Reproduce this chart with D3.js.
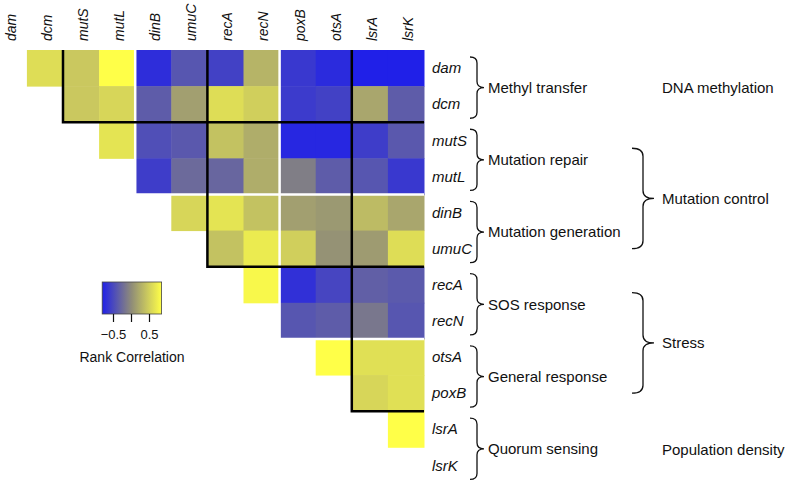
<!DOCTYPE html>
<html>
<head>
<meta charset="utf-8">
<script src="https://cdn.jsdelivr.net/npm/d3@7"></script>
<style>
  body { margin: 0; background: #fff; }
  text { font-family: "Liberation Sans", Arial, sans-serif; fill: #111; }
</style>
</head>
<body>
<script>
// genes on the two axes (poxB / otsA are swapped between them in the original)
const colGenes = ["dam", "dcm", "mutS", "mutL", "dinB", "umuC", "recA", "recN", "poxB", "otsA", "lsrA", "lsrK"];
const rowGenes = ["dam", "dcm", "mutS", "mutL", "dinB", "umuC", "recA", "recN", "otsA", "poxB", "lsrA", "lsrK"];

// upper triangle, row i holds the columns i+1 .. 11
const rDam  = [0.6, 0.45, 0.85, -0.7, -0.4, -0.55, 0.3, -0.62, -0.72, -0.8, -0.8];
const rDcm  = [0.45, 0.55, -0.35, 0.15, 0.6, 0.5, -0.6, -0.55, 0.2, -0.35];
const rMutS = [0.65, -0.45, -0.38, 0.4, 0.25, -0.75, -0.75, -0.58, -0.38];
const rMutL = [-0.58, -0.25, -0.28, 0.25, -0.1, -0.35, -0.4, -0.62];
const rDinB = [0.55, 0.65, 0.4, 0.15, 0.1, 0.35, 0.2];
const rUmuC = [0.4, 0.7, 0.5, 0.05, 0.12, 0.6];
const rRecA = [0.8, -0.68, -0.52, -0.33, -0.37];
const rRecN = [-0.4, -0.35, -0.15, -0.4];
const rOtsA = [0.85, 0.62, 0.62];
const rPoxB = [0.55, 0.62];
const rLsrA = [0.85];
const corrRows = [rDam, rDcm, rMutS, rMutL, rDinB, rUmuC, rRecA, rRecN, rOtsA, rPoxB, rLsrA, []];

// grouping of the rows
const subGroups = ["Methyl transfer", "Mutation repair", "Mutation generation", "SOS response", "General response", "Quorum sensing"];
const subStarts = [0, 2, 4, 6, 8, 10];
const superGroups = ["DNA methylation", "Mutation control", "Stress", "Population density"];
const superSpans = [[0, 2], [2, 6], [6, 10], [10, 12]];
const blackBounds = [2, 6, 10];
const whiteBounds = [4, 8];

const legendTicks = [-0.5, 0, 0.5];

const [w, h] = [788, 481];

const svg = d3.select("body").append("svg")
  .attr("width", w)
  .attr("height", h);

const x = d3.scaleBand().domain(colGenes).range([-9.2, 424]);
const y = d3.scaleBand().domain(rowGenes).range([50, 483.4]);
const bw = x.bandwidth();
const bh = y.bandwidth();
const xb = k => k < colGenes.length ? x(colGenes[k]) : x.range()[1];
const yb = k => k < rowGenes.length ? y(rowGenes[k]) : y.range()[1];

const color = d3.scaleLinear()
  .domain([-0.8, 0, 0.85])
  .range(["#2020e8", "#8e8b78", "#ffff48"]);

// flatten cells
const cells = [];
corrRows.forEach((row, i) => {
  row.forEach((v, n) => {
    const j = i + 1 + n;
    cells.push({ r: rowGenes[i], c: colGenes[j], v: v });
  });
});

svg.append("g").selectAll("rect")
  .data(cells)
  .join("rect")
  .attr("x", d => x(d.c))
  .attr("y", d => y(d.r))
  .attr("width", bw + 0.5)
  .attr("height", bh + 0.5)
  .attr("fill", d => color(d.v));

// separators: vertical from top to diagonal, then horizontal to the right edge
function sepPath(k) {
  return `M${xb(k)},${yb(0)} L${xb(k)},${yb(k)} L${xb(12)},${yb(k)}`;
}
svg.append("g").selectAll("path")
  .data(whiteBounds)
  .join("path")
  .attr("d", sepPath)
  .attr("fill", "none")
  .attr("stroke", "#fff")
  .attr("stroke-width", 2.5);

svg.append("g").selectAll("path")
  .data(blackBounds)
  .join("path")
  .attr("d", sepPath)
  .attr("fill", "none")
  .attr("stroke", "#000")
  .attr("stroke-width", 2.5);

// column labels
svg.append("g").selectAll("text")
  .data(colGenes)
  .join("text")
  .attr("transform", d => `translate(${x(d) + bw / 2 + 2}, 41) rotate(-90)`)
  .attr("dy", "0.35em")
  .attr("font-size", "14px")
  .attr("font-style", "italic")
  .text(d => d);

// row labels
svg.append("g").selectAll("text")
  .data(rowGenes)
  .join("text")
  .attr("x", 432)
  .attr("y", d => y(d) + bh / 2)
  .attr("dy", "0.35em")
  .attr("font-size", "15px")
  .attr("font-style", "italic")
  .text(d => d);

// curly brace pointing right
function brace(x0, stem, tip, y0, y1, r) {
  const ym = (y0 + y1) / 2;
  return `M${x0},${y0} Q${stem},${y0} ${stem},${y0 + r} L${stem},${ym - r} Q${stem},${ym} ${tip},${ym}`
    + ` Q${stem},${ym} ${stem},${ym + r} L${stem},${y1 - r} Q${stem},${y1} ${x0},${y1}`;
}

subGroups.forEach((name, g) => {
  const a = subStarts[g], b = a + 2;
  const y0 = yb(a) + 7, y1 = yb(b) - 4;
  svg.append("path")
    .attr("d", brace(470, 477, 484, y0, y1, 6))
    .attr("fill", "none")
    .attr("stroke", "#111")
    .attr("stroke-width", 1.3);
  svg.append("text")
    .attr("x", 488)
    .attr("y", (y0 + y1) / 2)
    .attr("dy", "0.35em")
    .attr("font-size", "15px")
    .text(name);
});

superGroups.forEach((name, g) => {
  const [a, b] = superSpans[g];
  let ym = (yb(a) + yb(b)) / 2 + 2;
  if (b - a > 2) {
    const y0 = yb(a) + 26, y1 = yb(b) - 18;
    ym = (y0 + y1) / 2;
    svg.append("path")
      .attr("d", brace(632, 643, 654, y0, y1, 8))
      .attr("fill", "none")
      .attr("stroke", "#111")
      .attr("stroke-width", 1.3);
  }
  svg.append("text")
    .attr("x", 662)
    .attr("y", ym)
    .attr("dy", "0.35em")
    .attr("font-size", "15px")
    .text(name);
});

// legend
const legScale = d3.scaleLinear().domain([-0.5, 0.5]).range([113, 149]);
const legTop = 282, legH = 32;
const grad = svg.append("defs").append("linearGradient")
  .attr("id", "leggrad")
  .attr("x1", "0%").attr("x2", "100%");
d3.range(0, 1.0001, 0.1).forEach(t => {
  const v = -0.8 + t * 1.65;
  grad.append("stop")
    .attr("offset", `${t * 100}%`)
    .attr("stop-color", color(v));
});
svg.append("rect")
  .attr("x", legScale(-0.8))
  .attr("y", legTop)
  .attr("width", legScale(0.85) - legScale(-0.8))
  .attr("height", legH)
  .attr("fill", "url(#leggrad)")
  .attr("stroke", "#444")
  .attr("stroke-width", 0.8);

const legAxis = d3.axisBottom(legScale)
  .tickValues(legendTicks)
  .tickSize(8)
  .tickPadding(8)
  .tickFormat(d => d === 0 ? "" : d3.format(".1f")(d));
const lg = svg.append("g")
  .attr("transform", `translate(0, ${legTop + legH})`)
  .call(legAxis);
lg.select(".domain").remove();
lg.selectAll("line").attr("stroke", "#111").attr("stroke-width", 1.2);
lg.selectAll("text")
  .attr("font-size", "13px")
  .attr("font-family", "Liberation Sans, Arial, sans-serif")
  .attr("fill", "#111");

svg.append("text")
  .attr("x", 132)
  .attr("y", 357)
  .attr("dy", "0.35em")
  .attr("text-anchor", "middle")
  .attr("font-size", "14px")
  .text("Rank Correlation");
</script>
</body>
</html>
